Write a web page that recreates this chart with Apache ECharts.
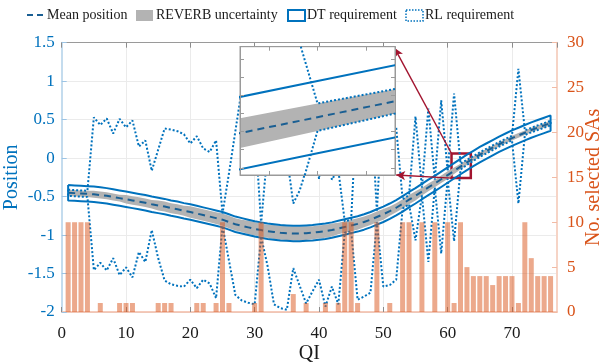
<!DOCTYPE html>
<html>
<head>
<meta charset="utf-8">
<script src="https://cdn.jsdelivr.net/npm/echarts@6/dist/echarts.min.js"></script>
<style>html,body{margin:0;padding:0;background:#fff;}#c{width:606px;height:363px;}</style>
</head>
<body>
<div id="c"></div>
<script>
// ---------------- data ----------------
const qi = [1,2,3,4,5,6,7,8,9,10,11,12,13,14,15,16,17,18,19,20,21,22,23,24,25,26,27,28,29,30,31,32,33,34,35,36,37,38,39,40,41,42,43,44,45,46,47,48,49,50,51,52,53,54,55,56,57,58,59,60,61,62,63,64,65,66,67,68,69,70,71,72,73,74,75,76];

const meanPos = [-0.45,-0.455,-0.46,-0.465,-0.47,-0.48,-0.49,-0.505,-0.52,-0.535,
 -0.55,-0.565,-0.58,-0.60,-0.615,-0.63,-0.65,-0.665,-0.685,-0.70,
 -0.72,-0.74,-0.76,-0.78,-0.80,-0.83,-0.86,-0.88,-0.90,-0.92,
 -0.935,-0.95,-0.96,-0.97,-0.975,-0.98,-0.98,-0.975,-0.97,-0.96,
 -0.95,-0.935,-0.915,-0.895,-0.875,-0.855,-0.83,-0.80,-0.765,-0.73,
 -0.69,-0.645,-0.595,-0.54,-0.49,-0.435,-0.38,-0.33,-0.275,-0.22,
 -0.165,-0.11,-0.055,-0.005,0.045,0.09,0.135,0.18,0.22,0.26,
 0.295,0.33,0.365,0.395,0.425,0.455];

const reverbLow = [-0.49,-0.495,-0.50,-0.505,-0.515,-0.525,-0.535,-0.55,-0.565,-0.59,
 -0.605,-0.62,-0.635,-0.655,-0.68,-0.695,-0.715,-0.73,-0.75,-0.775,
 -0.795,-0.815,-0.835,-0.855,-0.88,-0.91,-0.94,-0.96,-0.985,-1.005,
 -1.02,-1.035,-1.05,-1.06,-1.065,-1.07,-1.07,-1.065,-1.055,-1.045,
 -1.035,-1.02,-0.99,-0.97,-0.95,-0.93,-0.90,-0.87,-0.835,-0.80,
 -0.75,-0.705,-0.655,-0.60,-0.55,-0.485,-0.43,-0.38,-0.325,-0.27,
 -0.207,-0.148,-0.088,-0.035,0.015,0.06,0.105,0.15,0.19,0.23,
 0.265,0.30,0.335,0.365,0.395,0.425];

const reverbHigh = [-0.41,-0.415,-0.42,-0.425,-0.425,-0.435,-0.445,-0.46,-0.475,-0.48,
 -0.495,-0.51,-0.525,-0.545,-0.55,-0.565,-0.585,-0.60,-0.62,-0.625,
 -0.645,-0.665,-0.685,-0.705,-0.72,-0.75,-0.78,-0.80,-0.815,-0.835,
 -0.85,-0.865,-0.87,-0.88,-0.885,-0.89,-0.89,-0.885,-0.885,-0.875,
 -0.865,-0.85,-0.84,-0.82,-0.80,-0.78,-0.76,-0.73,-0.695,-0.66,
 -0.63,-0.585,-0.535,-0.48,-0.43,-0.385,-0.33,-0.28,-0.225,-0.17,
 -0.123,-0.072,-0.022,0.025,0.075,0.12,0.165,0.21,0.25,0.29,
 0.325,0.36,0.395,0.425,0.455,0.485];

const dtHigh = [-0.35,-0.355,-0.36,-0.365,-0.37,-0.38,-0.39,-0.405,-0.42,-0.435,
 -0.45,-0.465,-0.48,-0.50,-0.515,-0.53,-0.55,-0.565,-0.585,-0.60,
 -0.62,-0.64,-0.66,-0.68,-0.70,-0.73,-0.76,-0.78,-0.80,-0.82,
 -0.835,-0.85,-0.86,-0.87,-0.875,-0.88,-0.88,-0.875,-0.87,-0.86,
 -0.85,-0.835,-0.815,-0.795,-0.775,-0.755,-0.73,-0.70,-0.665,-0.63,
 -0.59,-0.545,-0.495,-0.44,-0.39,-0.335,-0.28,-0.23,-0.175,-0.12,
 -0.065,-0.01,0.045,0.095,0.145,0.19,0.235,0.28,0.32,0.36,
 0.395,0.43,0.465,0.495,0.525,0.555];

const dtLow = [-0.55,-0.555,-0.56,-0.565,-0.57,-0.58,-0.59,-0.605,-0.62,-0.635,
 -0.65,-0.665,-0.68,-0.70,-0.715,-0.73,-0.75,-0.765,-0.785,-0.80,
 -0.82,-0.84,-0.86,-0.88,-0.90,-0.93,-0.96,-0.98,-1.00,-1.02,
 -1.035,-1.05,-1.06,-1.07,-1.075,-1.08,-1.08,-1.075,-1.07,-1.06,
 -1.05,-1.035,-1.015,-0.995,-0.975,-0.955,-0.93,-0.90,-0.865,-0.83,
 -0.79,-0.745,-0.695,-0.64,-0.59,-0.535,-0.48,-0.43,-0.375,-0.32,
 -0.265,-0.21,-0.155,-0.105,-0.055,-0.01,0.035,0.08,0.12,0.16,
 0.195,0.23,0.265,0.295,0.325,0.355];

const rlHigh = [-0.41,-0.415,-0.42,-0.425,0.53,0.43,0.515,0.32,0.51,0.40,
 0.49,0.15,0.23,-0.165,0.11,0.385,0.37,0.35,0.31,0.19,
 0.285,0.125,0.08,0.23,-0.72,-0.2,0.35,0.9,0.8,0.45,
 -0.85,0.1,0.6,0.5,0.03,-0.59,-0.42,-0.15,0.6,-0.27,
 0.5,-0.28,-0.15,-0.82,-0.80,0.9,0.6,0.8,-0.695,0.9,
 0.5,0.4,-0.535,-0.48,0.54,-0.385,0.645,-0.28,0.75,-0.17,
 0.84,-0.072,-0.022,0.025,0.075,0.12,0.165,0.21,0.25,0.29,
 1.16,0.36,0.395,0.425,0.455,0.485];

const rlLow = [-0.49,-0.495,-0.50,-0.505,-1.455,-1.36,-1.46,-1.30,-1.52,-1.42,
 -1.55,-1.22,-1.35,-0.935,-1.30,-1.59,-1.64,-1.66,-1.67,-1.58,
 -1.69,-1.58,-1.63,-1.82,-0.88,-1.33,-1.78,-1.85,-1.88,-1.90,
 -1.02,-1.4,-1.9,-1.95,-1.97,-1.43,-1.66,-1.89,-1.73,-1.58,
 -1.93,-1.67,-1.9,-0.97,-0.95,-1.84,-1.80,-1.75,-0.835,-1.67,
 -1.65,-1.58,-0.655,-0.60,-1.07,-0.485,-1.35,-0.38,-1.24,-0.27,
 -1.08,-0.148,-0.088,-0.035,0.015,0.06,0.105,0.15,0.19,0.23,
 -0.59,0.30,0.335,0.365,0.395,0.425];

const selectedSAs = [10,10,10,10,0,1,0,0,1,1,
 1,0,0,0,1,1,1,0,0,0,
 1,1,0,1,10,1,0,0,0,1,
 10,0,0,0,0,2,0,1,0,0,
 1,0,1,10,10,1,0,0,10,0,
 1,0,10,10,0,10,0,10,0,10,
 1,10,5,4,4,4,3,4,4,4,
 1,10,6,4,4,4];

// zoom window (main-plot data coordinates of the red box) and inset ranges
const zoomBoxX = [60.6, 63.6];
const zoomBoxY = [-0.26, 0.06];
const insetX = [61.2, 62.8];
const insetY = [-0.27, 0.085];
// arrow tips (main-plot data coords of inset corners)
const arrowTop = [51.75, 1.43];
const arrowBottom = [52.0, -0.22];

const legendNames = ['Mean position', 'REVERB uncertainty', 'DT requirement', 'RL requirement'];

// ---------------- build ----------------
const FONT = 'Liberation Serif';
const BLUE = '#0072BD';
const MEANC = '#1a5f93';
const ORANGE = '#D95319';
const GRAYBAND = '#b3b3b3';

const pairs = (ys) => qi.map((x, i) => [x, ys[i]]);
const closed = (hi, lo) => {
  const a = qi.map((x, i) => [x, hi[i]]);
  for (let i = qi.length - 1; i >= 0; i--) a.push([qi[i], lo[i]]);
  a.push([qi[0], hi[0]]);
  return a;
};

function bandSeries(xi, yi, z) {
  return {
    type: 'custom', name: legendNames[1], xAxisIndex: xi, yAxisIndex: yi, z: z, silent: true, clip: true,
    data: [[qi[0], meanPos[0]]],
    renderItem: function (params, api) {
      const pts = [];
      for (let i = 0; i < qi.length; i++) pts.push(api.coord([qi[i], reverbHigh[i]]));
      for (let i = qi.length - 1; i >= 0; i--) pts.push(api.coord([qi[i], reverbLow[i]]));
      const cs = params.coordSys;
      return {
        type: 'polygon', shape: { points: pts }, style: { fill: GRAYBAND, stroke: null },
        clipPath: { type: 'rect', shape: { x: cs.x, y: cs.y, width: cs.width, height: cs.height } }
      };
    }
  };
}

function seriesSet(xi, yi, zBase) {
  return [
    bandSeries(xi, yi, zBase),
    { type: 'line', name: legendNames[0], xAxisIndex: xi, yAxisIndex: yi, data: pairs(meanPos),
      symbol: 'none', lineStyle: { color: MEANC, width: 2, type: [7, 5] }, silent: true, z: zBase + 1 },
    { type: 'line', name: legendNames[2], xAxisIndex: xi, yAxisIndex: yi, data: closed(dtHigh, dtLow),
      symbol: 'none', lineStyle: { color: BLUE, width: 2 }, silent: true, z: zBase + 1 },
    { type: 'line', name: legendNames[3], xAxisIndex: xi, yAxisIndex: yi, data: closed(rlHigh, rlLow),
      symbol: 'none', lineStyle: { color: BLUE, width: 2, type: [2, 2] }, silent: true, z: zBase + 2 }
  ];
}

const chart = echarts.init(document.getElementById('c'), null, { renderer: 'canvas' });

const insetAxisCommon = {
  type: 'value', gridIndex: 1, z: 14,
  axisLine: { show: true, onZero: false, lineStyle: { color: '#9a9a9a', width: 1 } },
  axisTick: { show: true, inside: true, length: 4, lineStyle: { color: '#9a9a9a' } },
  axisLabel: { show: false }, splitLine: { show: false }
};

const option = {
  animation: false,
  backgroundColor: '#fff',
  grid: [
    { left: 61.7, right: 49, top: 42.7, bottom: 51, containLabel: false, outerBoundsMode: 'none' },
    { left: 240, top: 46.7, width: 155, height: 128.3, show: true, backgroundColor: '#fff',
      borderColor: '#9a9a9a', borderWidth: 1, z: 10, containLabel: false, outerBoundsMode: 'none' }
  ],
  xAxis: [
    { type: 'value', gridIndex: 0, position: 'bottom', min: 0, max: 77, interval: 10,
      axisLine: { show: true, onZero: false, lineStyle: { color: '#f2bba5', width: 1.5 } },
      axisTick: { show: true, inside: true, length: 5, lineStyle: { color: '#8c8c8c' } },
      axisLabel: { color: '#1a1a1a', fontSize: 17, fontFamily: FONT, margin: 13, showMaxLabel: false,
        formatter: v => (v % 10 === 0 ? String(v) : '') },
      splitLine: { show: true, lineStyle: { color: '#ebebeb', width: 1 } },
      name: 'QI', nameLocation: 'middle', nameGap: 32, nameMoveOverlap: false,
      nameTextStyle: { color: '#1a1a1a', fontSize: 20, fontFamily: FONT } },
    { type: 'value', gridIndex: 0, position: 'top', min: 0, max: 77, interval: 10,
      axisLine: { show: true, onZero: false, lineStyle: { color: '#9a9a9a', width: 1 } },
      axisTick: { show: true, inside: true, length: 5, lineStyle: { color: '#8c8c8c' } },
      axisLabel: { show: false }, splitLine: { show: false } },
    Object.assign({}, insetAxisCommon, { position: 'bottom', min: insetX[0], max: insetX[1], splitNumber: 3 }),
    Object.assign({}, insetAxisCommon, { position: 'top', min: insetX[0], max: insetX[1], splitNumber: 3 })
  ],
  yAxis: [
    { type: 'value', gridIndex: 0, position: 'left', min: -2, max: 1.5, interval: 0.5,
      axisLine: { show: true, onZero: false, lineStyle: { color: '#c4dcee', width: 2 } },
      axisTick: { show: true, inside: true, length: 5, lineStyle: { color: '#9cc4e4' } },
      axisLabel: { color: BLUE, fontSize: 17, fontFamily: FONT, margin: 7 },
      splitLine: { show: true, lineStyle: { color: '#ebebeb', width: 1 } },
      name: 'Position', nameLocation: 'middle', nameGap: 40, nameRotate: 90, nameMoveOverlap: false,
      nameTextStyle: { color: BLUE, fontSize: 20, fontFamily: FONT } },
    { type: 'value', gridIndex: 0, position: 'right', min: 0, max: 30, interval: 5,
      axisLine: { show: true, onZero: false, lineStyle: { color: '#f6d4c6', width: 2 } },
      axisTick: { show: true, inside: true, length: 5, lineStyle: { color: '#f2bba5' } },
      axisLabel: { color: ORANGE, fontSize: 17, fontFamily: FONT, margin: 10 },
      splitLine: { show: false },
      name: 'No. selected SAs', nameLocation: 'middle', nameGap: 27, nameRotate: 90, nameMoveOverlap: false,
      nameTextStyle: { color: ORANGE, fontSize: 20, fontFamily: FONT } },
    Object.assign({}, insetAxisCommon, { position: 'left', min: insetY[0], max: insetY[1], splitNumber: 7 }),
    Object.assign({}, insetAxisCommon, { position: 'right', min: insetY[0], max: insetY[1], splitNumber: 7 })
  ],
  series: [
    ...seriesSet(0, 0, 2),
    { type: 'bar', name: 'No. selected SAs', xAxisIndex: 0, yAxisIndex: 1, data: pairs(selectedSAs),
      barWidth: 5, itemStyle: { color: 'rgba(217,83,25,0.5)' }, silent: true, z: 6 },
    ...seriesSet(2, 2, 12),
    { type: 'line', name: 'zoom', xAxisIndex: 0, yAxisIndex: 0, data: [], symbol: 'none', z: 16, silent: true,
      markArea: { silent: true, itemStyle: { color: 'rgba(0,0,0,0)', borderColor: '#A2142F', borderWidth: 2.5 },
        label: { show: false },
        data: [[{ coord: [zoomBoxX[0], zoomBoxY[1]] }, { coord: [zoomBoxX[1], zoomBoxY[0]] }]] },
      markLine: { silent: true, symbol: ['none', 'arrow'], symbolSize: [7, 9], label: { show: false },
        lineStyle: { color: '#A2142F', width: 1.4, type: 'solid' },
        data: [
          [{ coord: [zoomBoxX[0], zoomBoxY[1]] }, { coord: arrowTop }],
          [{ coord: [zoomBoxX[0], zoomBoxY[0]] }, { coord: arrowBottom }]
        ] } }
  ],
  graphic: [
    { type: 'line', z: 100, shape: { x1: 27, y1: 15, x2: 33, y2: 15 }, style: { stroke: MEANC, lineWidth: 2 } },
    { type: 'line', z: 100, shape: { x1: 37, y1: 15, x2: 43, y2: 15 }, style: { stroke: MEANC, lineWidth: 2 } },
    { type: 'text', z: 100, x: 47, y: 15, style: { text: legendNames[0], fontSize: 14, fontFamily: FONT, fill: '#1a1a1a', verticalAlign: 'middle' } },
    { type: 'rect', z: 100, shape: { x: 136, y: 10, width: 17, height: 11 }, style: { fill: GRAYBAND } },
    { type: 'text', z: 100, x: 156, y: 15, style: { text: legendNames[1], fontSize: 14, fontFamily: FONT, fill: '#1a1a1a', verticalAlign: 'middle' } },
    { type: 'rect', z: 100, shape: { x: 288, y: 10, width: 17, height: 11 }, style: { fill: 'none', stroke: BLUE, lineWidth: 2 } },
    { type: 'text', z: 100, x: 307, y: 15, style: { text: legendNames[2], fontSize: 14, fontFamily: FONT, fill: '#1a1a1a', verticalAlign: 'middle' } },
    { type: 'rect', z: 100, shape: { x: 406, y: 10, width: 17, height: 11 }, style: { fill: 'none', stroke: BLUE, lineWidth: 1.5, lineDash: [1.5, 1.5] } },
    { type: 'text', z: 100, x: 425, y: 15, style: { text: legendNames[3], fontSize: 14, fontFamily: FONT, fill: '#1a1a1a', verticalAlign: 'middle' } }
  ]
};
chart.setOption(option);
</script>
</body>
</html>
